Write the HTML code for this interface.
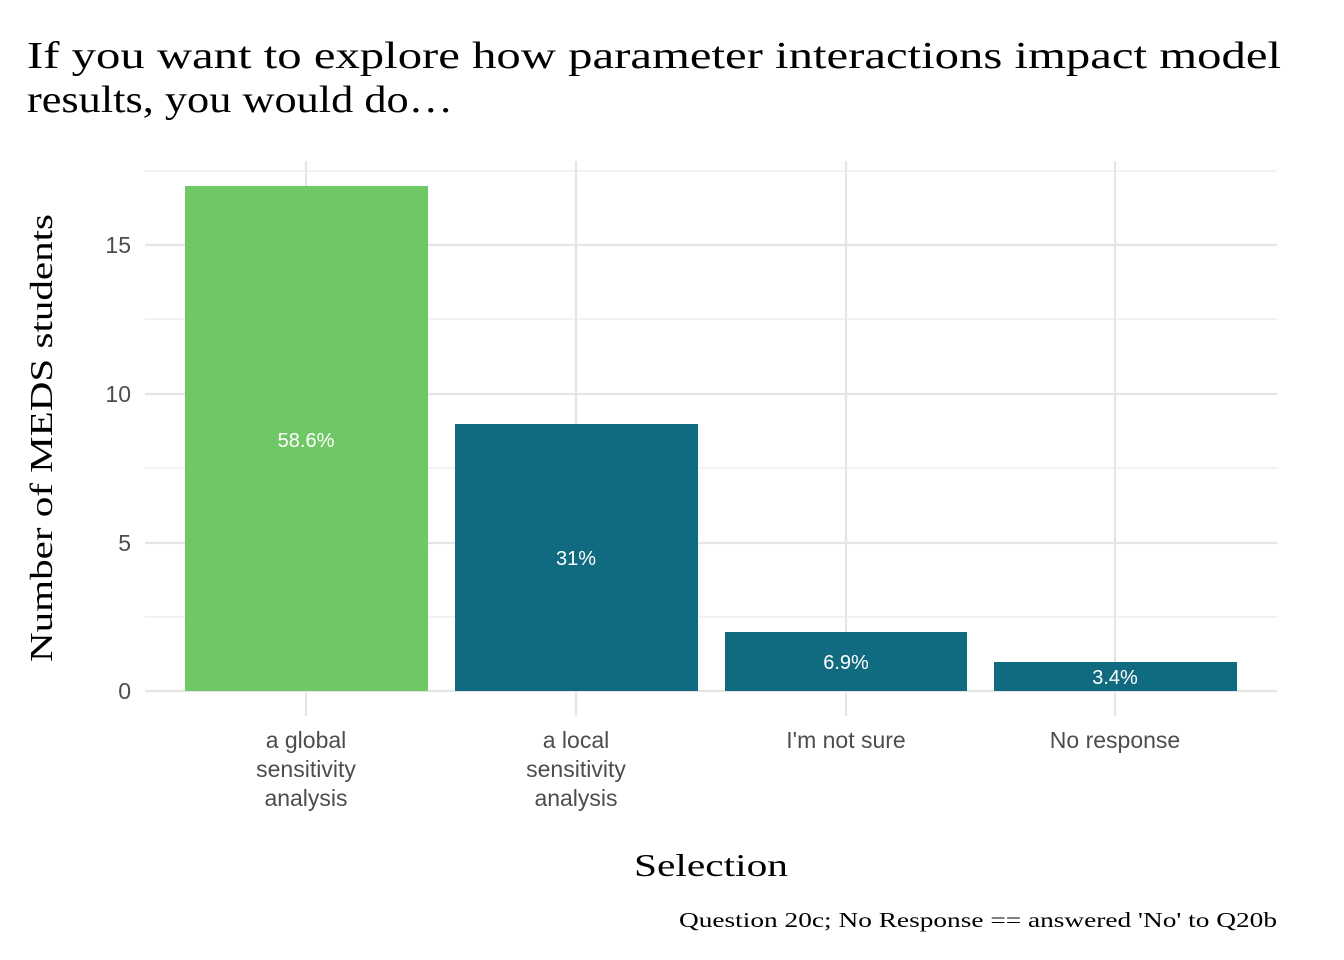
<!DOCTYPE html>
<html><head><meta charset="utf-8"><style>html,body{margin:0;padding:0;background:#fff}</style></head>
<body>
<svg width="1344" height="960" xmlns="http://www.w3.org/2000/svg" style="display:block">
<rect width="1344" height="960" fill="#fff"/>
<g font-family="Liberation Serif, DejaVu Serif, serif" fill="#000">
<text x="27" y="68" font-size="38" textLength="1254" lengthAdjust="spacingAndGlyphs">If you want to explore how parameter interactions impact model</text>
<text x="27" y="112" font-size="38" textLength="426" lengthAdjust="spacingAndGlyphs">results, you would do…</text>
</g>
<g stroke="#ebebeb" stroke-width="1.2">
<line x1="145" x2="1277" y1="617" y2="617"/><line x1="145" x2="1277" y1="468" y2="468"/>
<line x1="145" x2="1277" y1="319" y2="319"/><line x1="145" x2="1277" y1="171" y2="171"/>
</g>
<g stroke="#e5e5e5" stroke-width="2.2">
<line x1="145" x2="1277" y1="691" y2="691"/><line x1="145" x2="1277" y1="543" y2="543"/>
<line x1="145" x2="1277" y1="394" y2="394"/><line x1="145" x2="1277" y1="245" y2="245"/>
<line x1="306" x2="306" y1="161" y2="716"/><line x1="576" x2="576" y1="161" y2="716"/>
<line x1="846" x2="846" y1="161" y2="716"/><line x1="1115" x2="1115" y1="161" y2="716"/>
</g>
<rect x="185" y="186" width="243" height="505" fill="#6fc766"/>
<rect x="455" y="424" width="243" height="267" fill="#106a80"/>
<rect x="725" y="632" width="242" height="59" fill="#106a80"/>
<rect x="994" y="662" width="243" height="29" fill="#106a80"/>
<g font-family="Liberation Sans, DejaVu Sans, sans-serif" font-size="20" fill="#fff" text-anchor="middle">
<text x="306" y="447">58.6%</text><text x="576" y="565">31%</text>
<text x="846" y="669">6.9%</text><text x="1115" y="684">3.4%</text>
</g>
<g font-family="Liberation Sans, DejaVu Sans, sans-serif" font-size="23" fill="#4d4d4d">
<g text-anchor="end">
<text x="131" y="699">0</text><text x="131" y="551">5</text>
<text x="131" y="402">10</text><text x="131" y="253">15</text>
</g>
<g text-anchor="middle">
<text x="306" y="748">a global</text><text x="306" y="777">sensitivity</text><text x="306" y="806">analysis</text>
<text x="576" y="748">a local</text><text x="576" y="777">sensitivity</text><text x="576" y="806">analysis</text>
<text x="846" y="748">I'm not sure</text><text x="1115" y="748">No response</text>
</g>
</g>
<g font-family="Liberation Serif, DejaVu Serif, serif" fill="#000">
<text x="711" y="876" font-size="32" text-anchor="middle" textLength="154" lengthAdjust="spacingAndGlyphs">Selection</text>
<text transform="translate(52,438) rotate(-90)" font-size="32" text-anchor="middle" textLength="448" lengthAdjust="spacingAndGlyphs">Number of MEDS students</text>
<text x="1277" y="927" font-size="21" text-anchor="end" textLength="598" lengthAdjust="spacingAndGlyphs">Question 20c; No Response == answered 'No' to Q20b</text>
</g>
</svg>
</body></html>
